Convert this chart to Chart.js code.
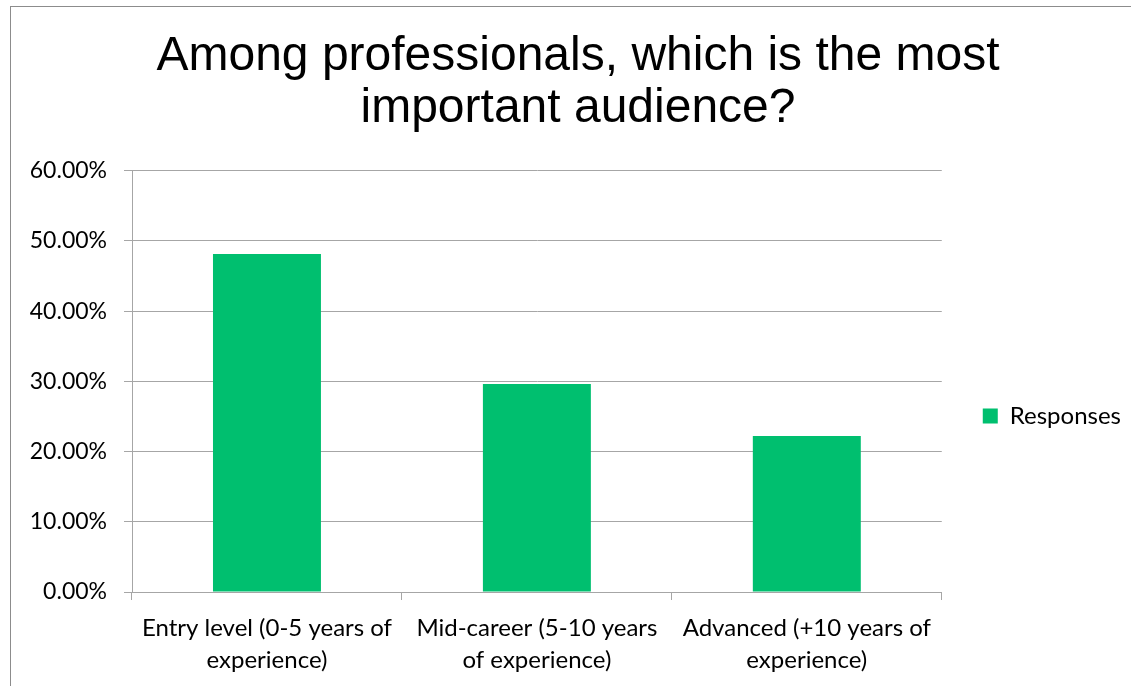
<!DOCTYPE html>
<html>
<head>
<meta charset="utf-8">
<title>Among professionals, which is the most important audience?</title>
<script src="https://cdn.jsdelivr.net/npm/chart.js@4/dist/chart.umd.min.js"></script>
<style>
  html, body { margin: 0; padding: 0; background: #fff; overflow: hidden; }
  #frame {
    position: absolute; left: 10px; top: 6px; right: -10px; bottom: -10px;
    border-top: 1px solid #8c8c8c; border-left: 1px solid #8c8c8c;
  }
  #wrap { position: absolute; left: 0; top: 0; width: 1131px; height: 686px; }
</style>
</head>
<body>
<div id="frame"></div>
<div id="wrap"><canvas id="myChart"></canvas></div>
<script>
// survey answers
const categories = [
  ['Entry level (0-5 years of', 'experience)'],
  ['Mid-career (5-10 years', 'of experience)'],
  ['Advanced (+10 years of', 'experience)']
];
const responses = [48.15, 29.63, 22.22];
const yTicks = [0, 10, 20, 30, 40, 50, 60];

const gridGray = '#a6a6a6';
const tickFont = { family: 'Lato', size: 23 };
const catFont = { family: 'Lato', size: 24, lineHeight: 1.35 };

const chartdata = {
  labels: categories,
  datasets: [{
    label: 'Responses',
    data: responses,
    backgroundColor: '#00BF6F',
    barPercentage: 0.4,
    categoryPercentage: 1.0
  }]
};

const ctx = document.getElementById('myChart').getContext('2d');
const myChart = new Chart(ctx, {
  type: 'bar',
  data: chartdata,
  options: {
    responsive: true,
    maintainAspectRatio: false,
    animation: false,
    layout: { padding: { left: 25, right: 0, top: 0, bottom: 0 } },
    plugins: {
      title: {
        display: true,
        text: ['Among professionals, which is the most', 'important audience?'],
        color: '#000',
        font: { family: 'Liberation Sans', size: 48, weight: 'normal', lineHeight: 1.08 },
        padding: { top: 31, bottom: 36 }
      },
      legend: {
        position: 'right',
        align: 'start',
        // empty title only pushes the entry down next to the plot
        title: {
          display: true,
          text: '',
          font: { size: 10, lineHeight: 1 },
          padding: { top: 384, bottom: 0 }
        },
        labels: {
          color: '#000',
          font: { family: 'Lato', size: 24 },
          boxWidth: 15,
          boxHeight: 15,
          padding: 10
        }
      },
      tooltip: { enabled: false }
    },
    scales: {
      x: {
        grid: { drawOnChartArea: false, drawTicks: true, tickLength: 8, color: gridGray },
        border: { color: gridGray },
        ticks: { color: '#000', font: catFont, padding: 12, maxRotation: 0, autoSkip: false },
        afterFit: function(scale) { scale.height = 94; }
      },
      y: {
        min: 0,
        max: 60,
        afterBuildTicks: function(scale) {
          scale.ticks = yTicks.map(v => ({ value: v }));
        },
        grid: { color: gridGray, tickLength: 8 },
        border: { color: gridGray },
        ticks: {
          color: '#000',
          font: tickFont,
          padding: 17,
          callback: v => v.toFixed(2) + '%'
        },
        afterFit: function(scale) { scale.width = 107; }
      },
      // empty axis to keep a gap before the legend
      gap: {
        type: 'linear',
        position: 'right',
        display: true,
        grid: { drawOnChartArea: false, drawTicks: false },
        border: { display: false },
        ticks: { display: false },
        afterFit: function(scale) { scale.width = 31; }
      }
    }
  }
});
</script>
</body>
</html>
